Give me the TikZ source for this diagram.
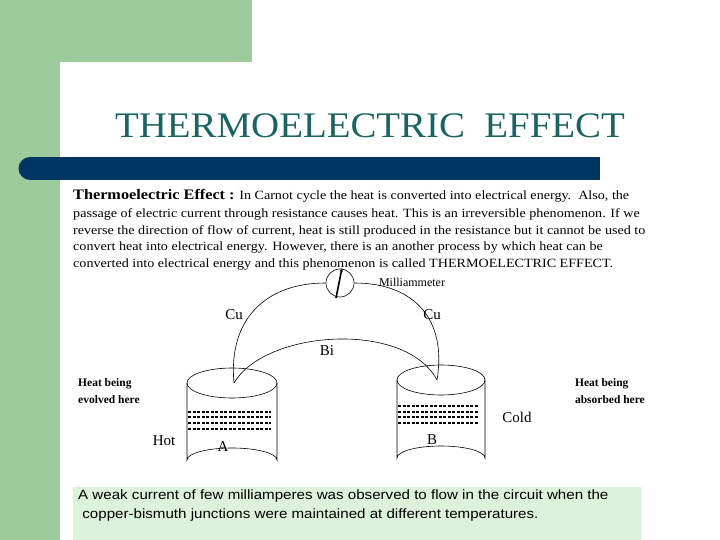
\documentclass[tikz,border=0pt]{standalone}
\usetikzlibrary{arrows.meta}
\usepackage{fontspec}
\setmainfont{Liberation Serif}
\newfontfamily\sansf{Liberation Sans}
\newfontfamily\widef[FakeStretch=1.12]{Liberation Serif}
\definecolor{grn}{HTML}{9DCB9B}
\definecolor{navy}{HTML}{003663}
\definecolor{teal2}{HTML}{1A6464}
\definecolor{pale}{HTML}{DDF2DA}
\begin{document}
\begin{tikzpicture}[x=1pt,y=-1pt,
  txt/.style={inner sep=0pt,anchor=west,font=\widef\fontsize{12.6}{12}\selectfont},
  lbl/.style={inner sep=0pt,font=\fontsize{15}{16}\selectfont},
  small/.style={inner sep=0pt,font=\bfseries\fontsize{11.5}{17}\selectfont},
  wire/.style={line width=0.6pt},
  heat/.style={line width=1.4pt,dash pattern=on 3pt off 1.5pt}]
\useasboundingbox (0,0) rectangle (720,540);
\fill[white] (0,0) rectangle (720,540);
\fill[grn] (0,0) rectangle (252,62);
\fill[grn] (0,0) rectangle (60,540);
\fill[white] (60,540) -- (60,92) arc[start angle=180,end angle=90,radius=30] -- (252,62) -- (252,540) -- cycle;
\fill[navy] (30,157) rectangle (600,180);
\fill[navy] (30,168.5) circle (11.5);
\node[inner sep=0pt,text=teal2,font=\fontsize{36}{40}\selectfont] (title) at (370,126) {\scalebox{1.08}[1]{THERMOELECTRIC\ \ EFFECT}};
\node[txt] (l0) at (73,196) {{\bfseries\fontsize{14.5}{14}\selectfont Thermoelectric Effect :} In Carnot cycle the heat is converted into electrical energy.\ \ Also, the};
\node[txt] (l1) at (73,214) {passage of electric current through resistance causes heat. This is an irreversible phenomenon. If we};
\node[txt] (l2) at (73,231) {reverse the direction of flow of current, heat is still produced in the resistance but it cannot be used to};
\node[txt] (l3) at (73,247) {convert heat into electrical energy. However, there is an another process by which heat can be};
\node[txt] (l4) at (73,264) {converted into electrical energy and this phenomenon is called THERMOELECTRIC EFFECT.};
% cylinders
\draw[wire,fill=white] (187,383) -- (187,460) arc[start angle=180,end angle=360,x radius=45,y radius=12] -- (277,383);
\draw[wire] (232,383) ellipse[x radius=45,y radius=15];
\draw[wire,fill=white] (397,380) -- (397,458) arc[start angle=180,end angle=360,x radius=44,y radius=12] -- (485,380);
\draw[wire] (441,380) ellipse[x radius=44,y radius=15];
\foreach \y in {412,417,423,429} \draw[heat] (188,\y) -- (271,\y);
\foreach \y in {406,412,417,423} \draw[heat] (398,\y) -- (479,\y);
% wires
\coordinate (ja) at (234,383);
\coordinate (jb) at (437,380);
\node[circle,draw,wire,minimum size=28pt,inner sep=0pt] (m) at (340,283) {};
\draw[wire] (ja) .. controls (228,320) and (265,283) .. (m.west);
\draw[wire] (m.east) .. controls (415,283) and (447,320) .. (jb);
\draw[wire] (ja) .. controls (265,330) and (405,320) .. (jb);
\draw[line width=1.6pt,-{Stealth[length=4pt]}] (336,298) -- (342,268);
\node[inner sep=0pt,font=\fontsize{12}{12}\selectfont] (mil) at (412,282) {Milliammeter};
\node[lbl] (cu1) at (234,315) {Cu};
\node[lbl] (cu2) at (432,315) {Cu};
\node[lbl] (bi) at (327,351) {Bi};
\node[lbl] (a) at (223,447) {A};
\node[lbl] (b) at (432,440) {B};
\node[lbl] (hot) at (164,441) {Hot};
\node[lbl] (cold) at (517,417) {Cold};
\node[small,anchor=north west,align=left] (ev) at (78,378) {Heat being\\evolved here};
\node[small,anchor=north east,align=left] (ab) at (645,378) {Heat being\\absorbed here};
% bottom box
\fill[pale] (73,487) rectangle (641,540);
\node[inner sep=0pt,anchor=north west,align=left,font=\sansf\fontsize{13.5}{19}\selectfont] (note) at (78,490) {\scalebox{1.12}[1]{A weak current of few milliamperes was observed to flow in the circuit when the}\\ \scalebox{1.12}[1]{\ copper-bismuth junctions were maintained at different temperatures.}};
\end{tikzpicture}
\end{document}
